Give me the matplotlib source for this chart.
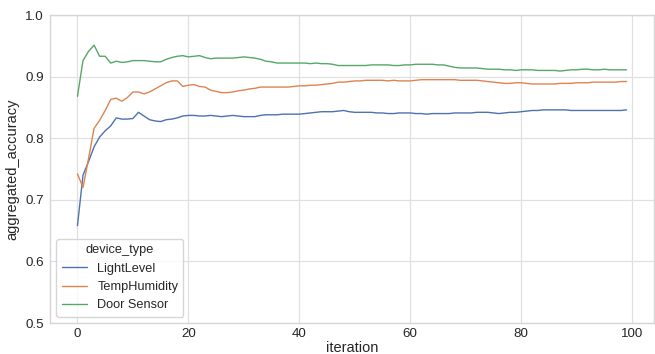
import matplotlib
matplotlib.use("Agg")
import matplotlib.pyplot as plt
import seaborn as sns
import pandas as pd
import numpy as np

iterations = list(range(100))
light_level = [0.658, 0.740, 0.762, 0.786, 0.802, 0.812, 0.820, 0.833, 0.831, 0.831,
               0.832, 0.842, 0.836, 0.830, 0.828, 0.827, 0.830, 0.831, 0.833, 0.836,
               0.837, 0.837, 0.836, 0.836, 0.837, 0.836, 0.835, 0.836, 0.837, 0.836,
               0.835, 0.835, 0.835, 0.837, 0.838, 0.838, 0.838, 0.839, 0.839, 0.839,
               0.839, 0.840, 0.841, 0.842, 0.843, 0.843, 0.843, 0.844, 0.845, 0.843,
               0.842, 0.842, 0.842, 0.842, 0.841, 0.841, 0.840, 0.840, 0.841, 0.841,
               0.841, 0.840, 0.840, 0.839, 0.840, 0.840, 0.840, 0.840, 0.841, 0.841,
               0.841, 0.841, 0.842, 0.842, 0.842, 0.841, 0.840, 0.841, 0.842, 0.842,
               0.843, 0.844, 0.845, 0.845, 0.846, 0.846, 0.846, 0.846, 0.846, 0.845,
               0.845, 0.845, 0.845, 0.845, 0.845, 0.845, 0.845, 0.845, 0.845, 0.846]
temp_humidity = [0.742, 0.720, 0.767, 0.816, 0.829, 0.845, 0.863, 0.865, 0.860, 0.866,
                 0.875, 0.875, 0.872, 0.875, 0.880, 0.885, 0.890, 0.893, 0.893, 0.884,
                 0.886, 0.887, 0.884, 0.883, 0.878, 0.876, 0.874, 0.874, 0.875, 0.877,
                 0.878, 0.880, 0.881, 0.883, 0.883, 0.883, 0.883, 0.883, 0.883, 0.884,
                 0.885, 0.885, 0.886, 0.886, 0.887, 0.888, 0.889, 0.891, 0.891, 0.892,
                 0.893, 0.893, 0.894, 0.894, 0.894, 0.894, 0.893, 0.894, 0.893, 0.893,
                 0.893, 0.894, 0.895, 0.895, 0.895, 0.895, 0.895, 0.895, 0.895, 0.894,
                 0.894, 0.894, 0.894, 0.893, 0.892, 0.891, 0.890, 0.889, 0.889, 0.890,
                 0.890, 0.889, 0.888, 0.888, 0.888, 0.888, 0.888, 0.889, 0.889, 0.889,
                 0.890, 0.890, 0.890, 0.891, 0.891, 0.891, 0.891, 0.891, 0.892, 0.892]
door_sensor = [0.868, 0.926, 0.941, 0.951, 0.933, 0.933, 0.922, 0.925, 0.923, 0.924,
               0.926, 0.926, 0.926, 0.925, 0.924, 0.924, 0.928, 0.931, 0.933, 0.934,
               0.932, 0.933, 0.934, 0.931, 0.929, 0.930, 0.930, 0.930, 0.930, 0.931,
               0.932, 0.931, 0.930, 0.928, 0.925, 0.924, 0.922, 0.922, 0.922, 0.922,
               0.922, 0.922, 0.921, 0.922, 0.921, 0.921, 0.920, 0.918, 0.918, 0.918,
               0.918, 0.918, 0.918, 0.919, 0.919, 0.919, 0.919, 0.918, 0.918, 0.919,
               0.919, 0.920, 0.920, 0.920, 0.920, 0.919, 0.919, 0.917, 0.915, 0.914,
               0.914, 0.914, 0.914, 0.913, 0.912, 0.912, 0.912, 0.911, 0.911, 0.910,
               0.911, 0.911, 0.911, 0.910, 0.910, 0.910, 0.910, 0.909, 0.910, 0.911,
               0.911, 0.912, 0.912, 0.911, 0.911, 0.912, 0.911, 0.911, 0.911, 0.911]
device_types = ["LightLevel", "TempHumidity", "Door Sensor"]

df = pd.DataFrame({
    "iteration": iterations * 3,
    "aggregated_accuracy": light_level + temp_humidity + door_sensor,
    "device_type": [device_types[0]] * 100 + [device_types[1]] * 100 + [device_types[2]] * 100,
})

sns.set_theme(style="whitegrid")
plt.rcParams['font.family'] = ['Liberation Sans', 'Arial', 'DejaVu Sans']

fig = plt.figure(figsize=(6.55, 3.54), dpi=100)
ax = fig.add_axes([50 / 655, 31 / 354, 604 / 655, 308 / 354])
sns.lineplot(data=df, x="iteration", y="aggregated_accuracy", hue="device_type",
             hue_order=device_types, ax=ax, linewidth=1.0)
ax.set_ylim(0.5, 1.0)
ax.set_yticks([0.5, 0.6, 0.7, 0.8, 0.9, 1.0])
ax.tick_params(axis="both", labelsize=9.6, length=0, colors="#262626")
ax.tick_params(axis="x", pad=3.5)
ax.tick_params(axis="y", pad=4.5)
ax.set_xlabel("iteration", fontsize=10.5, labelpad=1.0, color="#262626")
ax.set_ylabel("aggregated_accuracy", fontsize=10.5, labelpad=4, color="#262626")
ax.grid(color="#e0e0e0", linewidth=0.9)
for s in ax.spines.values():
    s.set_linewidth(1.0)
    s.set_color("#d6d6d6")
leg = ax.legend(title="device_type", loc="lower left", fontsize=9.2, title_fontsize=9.2)
fig.savefig("out.png", dpi=100)
